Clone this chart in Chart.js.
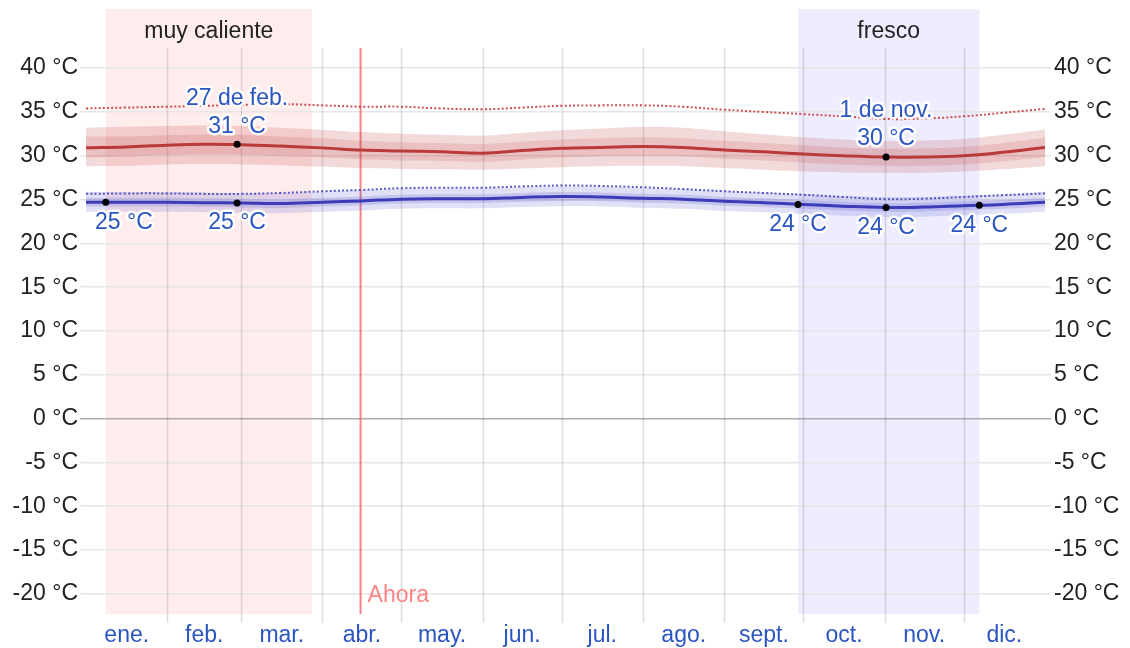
<!DOCTYPE html>
<html>
<head>
<meta charset="utf-8">
<script src="https://cdn.jsdelivr.net/npm/chart.js@4.4.1/dist/chart.umd.min.js"></script>
<style>
  html, body { margin: 0; padding: 0; background: #fff; }
  canvas { display: block; }
</style>
</head>
<body>
<canvas id="tempChart" width="1130" height="648"></canvas>
<script>
// day of year for each sample
const days = [0, 15, 31, 45, 59, 74, 90, 105, 120, 135, 151, 166, 181, 196, 212, 227, 243, 258, 273, 288, 304, 319, 334, 349, 365];

// average high and its percentile bands
const highAvg = [30.9, 31.0, 31.2, 31.3, 31.25, 31.1, 30.9, 30.65, 30.55, 30.45, 30.3, 30.6, 30.85, 30.95, 31.05, 30.95, 30.65, 30.45, 30.2, 30.0, 29.85, 29.85, 30.0, 30.4, 30.95];
const high90 = [33.2, 33.3, 33.4, 33.45, 33.4, 33.2, 32.95, 32.7, 32.5, 32.4, 32.3, 32.6, 32.9, 33.1, 33.3, 33.2, 32.8, 32.45, 32.1, 31.85, 31.7, 31.75, 31.95, 32.4, 33.0];
const high75 = [32.2, 32.2, 32.35, 32.4, 32.4, 32.2, 32.0, 31.7, 31.55, 31.45, 31.35, 31.6, 31.85, 32.0, 32.1, 32.0, 31.7, 31.45, 31.2, 30.95, 30.8, 30.85, 31.0, 31.45, 32.05];
const high25 = [29.8, 29.9, 30.05, 30.15, 30.1, 29.95, 29.8, 29.6, 29.45, 29.4, 29.3, 29.55, 29.8, 29.95, 30.0, 29.95, 29.65, 29.45, 29.2, 29.0, 28.85, 28.85, 29.0, 29.35, 29.85];
const high10 = [28.8, 28.85, 29.0, 29.05, 29.0, 28.9, 28.75, 28.6, 28.5, 28.45, 28.4, 28.55, 28.7, 28.8, 28.85, 28.8, 28.6, 28.4, 28.2, 28.1, 28.05, 28.05, 28.2, 28.45, 28.8];
const highFeels = [35.4, 35.5, 35.6, 35.7, 35.8, 35.9, 35.75, 35.6, 35.6, 35.4, 35.3, 35.5, 35.7, 35.75, 35.75, 35.6, 35.25, 35.0, 34.75, 34.5, 34.2, 34.25, 34.5, 34.9, 35.35];

// average low and its percentile bands
const lowAvg = [24.7, 24.7, 24.7, 24.65, 24.6, 24.55, 24.7, 24.85, 25.05, 25.1, 25.1, 25.25, 25.35, 25.3, 25.15, 25.05, 24.8, 24.65, 24.45, 24.25, 24.1, 24.15, 24.3, 24.45, 24.7];
const low90 = [25.9, 25.85, 25.85, 25.8, 25.75, 25.75, 25.9, 26.05, 26.2, 26.25, 26.25, 26.4, 26.5, 26.45, 26.3, 26.2, 25.95, 25.8, 25.6, 25.4, 25.3, 25.3, 25.45, 25.6, 25.9];
const low75 = [25.2, 25.2, 25.2, 25.15, 25.1, 25.05, 25.2, 25.35, 25.55, 25.6, 25.6, 25.75, 25.85, 25.8, 25.65, 25.55, 25.3, 25.15, 24.95, 24.75, 24.6, 24.65, 24.8, 24.95, 25.2];
const low25 = [24.2, 24.2, 24.2, 24.15, 24.1, 24.05, 24.2, 24.35, 24.55, 24.6, 24.6, 24.75, 24.85, 24.8, 24.65, 24.55, 24.3, 24.15, 23.95, 23.75, 23.6, 23.65, 23.8, 23.95, 24.2];
const low10 = [23.6, 23.6, 23.6, 23.55, 23.5, 23.45, 23.6, 23.75, 23.95, 24.0, 24.0, 24.15, 24.25, 24.2, 24.05, 23.95, 23.7, 23.55, 23.35, 23.15, 23.0, 23.05, 23.2, 23.35, 23.6];
const lowFeels = [25.65, 25.7, 25.7, 25.65, 25.65, 25.75, 25.95, 26.1, 26.3, 26.35, 26.35, 26.5, 26.6, 26.55, 26.4, 26.2, 25.95, 25.75, 25.55, 25.3, 25.05, 25.1, 25.3, 25.5, 25.7];

// highlighted points
const highMarkDays = [57.5, 304.5];
const highMarkTemps = [31.3, 29.85];
const highMarkDates = ['27 de feb.', '1 de nov.'];
const lowMarkDays = [7.5, 57.5, 271, 304.5, 340];
const lowMarkTemps = [24.7, 24.6, 24.45, 24.1, 24.35];

// seasons and "now"
const seasonNames = ['muy caliente', 'fresco'];
const seasonStart = [7.5, 271];
const seasonEnd = [86, 340];
const nowDay = 104.5;

// axes
const monthStarts = [0, 31, 59, 90, 120, 151, 181, 212, 243, 273, 304, 334, 365];
const monthMids = [15.5, 45, 74.5, 105, 135.5, 166, 196.5, 227.5, 258, 288.5, 319, 349.5];
const monthLabels = ['ene.', 'feb.', 'mar.', 'abr.', 'may.', 'jun.', 'jul.', 'ago.', 'sept.', 'oct.', 'nov.', 'dic.'];
const yTicks = [-20, -15, -10, -5, 0, 5, 10, 15, 20, 25, 30, 35, 40];

const FONT = '"Liberation Sans", Arial, sans-serif';
const BLUE_TEXT = '#2b55c0';

function pts(values) {
    return values.map((v, i) => ({ x: days[i], y: v }));
}

function haloText(ctx, text, x, y, color) {
    ctx.lineJoin = 'round';
    ctx.lineWidth = 5;
    ctx.strokeStyle = 'rgba(255,255,255,0.9)';
    ctx.strokeText(text, x, y);
    ctx.fillStyle = color;
    ctx.fillText(text, x, y);
}

const decor = {
    id: 'decor',
    beforeDraw(chart) {
        const { ctx, chartArea, scales } = chart;
        const xs = scales.x;
        const colors = ['rgba(255,0,0,0.075)', 'rgba(0,0,255,0.07)'];
        ctx.save();
        seasonNames.forEach((name, i) => {
            const x0 = xs.getPixelForValue(seasonStart[i]);
            const x1 = xs.getPixelForValue(seasonEnd[i]);
            ctx.fillStyle = colors[i];
            ctx.fillRect(x0, chartArea.top, x1 - x0, chartArea.bottom - chartArea.top);
            ctx.fillStyle = '#222';
            ctx.font = '23px ' + FONT;
            ctx.textAlign = 'center';
            ctx.textBaseline = 'middle';
            ctx.fillText(name, (x0 + x1) / 2, chartArea.top + 23);
        });
        ctx.restore();
    },
    beforeDatasetsDraw(chart) {
        const { ctx, chartArea, scales } = chart;
        const xs = scales.x, ys = scales.y;
        const top = ys.getPixelForValue(42.3);
        ctx.save();
        ctx.strokeStyle = 'rgba(0,0,0,0.13)';
        ctx.lineWidth = 1.5;
        monthStarts.slice(1, -1).forEach(d => {
            const x = Math.round(xs.getPixelForValue(d)) + 0.5;
            ctx.beginPath();
            ctx.moveTo(x, top);
            ctx.lineTo(x, chartArea.bottom + 9);
            ctx.stroke();
        });
        const nx = xs.getPixelForValue(nowDay);
        ctx.strokeStyle = 'rgba(240,90,90,0.75)';
        ctx.lineWidth = 2;
        ctx.beginPath();
        ctx.moveTo(nx, top);
        ctx.lineTo(nx, chartArea.bottom);
        ctx.stroke();
        ctx.restore();
    },
    afterDatasetsDraw(chart) {
        const { ctx, chartArea, scales } = chart;
        const xs = scales.x, ys = scales.y;
        ctx.save();
        ctx.font = '23px ' + FONT;
        ctx.textAlign = 'center';
        ctx.textBaseline = 'middle';

        highMarkDays.forEach((d, i) => {
            const x = xs.getPixelForValue(d);
            const y = ys.getPixelForValue(highMarkTemps[i]);
            haloText(ctx, highMarkDates[i], x, y - 46, BLUE_TEXT);
            haloText(ctx, Math.round(highMarkTemps[i]) + ' °C', x, y - 18, BLUE_TEXT);
            ctx.fillStyle = '#000';
            ctx.beginPath();
            ctx.arc(x, y, 3.5, 0, Math.PI * 2);
            ctx.fill();
        });

        lowMarkDays.forEach((d, i) => {
            const x = xs.getPixelForValue(d);
            const y = ys.getPixelForValue(lowMarkTemps[i]);
            const text = Math.round(lowMarkTemps[i]) + ' °C';
            const half = ctx.measureText(text).width / 2;
            const lx = Math.max(x, chartArea.left + half + 9);
            haloText(ctx, text, lx, y + 20, BLUE_TEXT);
            ctx.fillStyle = '#000';
            ctx.beginPath();
            ctx.arc(x, y, 3.5, 0, Math.PI * 2);
            ctx.fill();
        });

        const nx = xs.getPixelForValue(nowDay);
        ctx.textAlign = 'left';
        ctx.fillStyle = 'rgba(250,110,110,0.85)';
        ctx.fillText('Ahora', nx + 7, ys.getPixelForValue(-20) + 2);
        ctx.restore();
    }
};

const lineBase = { pointRadius: 0, tension: 0.4, fill: false };

function noEdgePadding(scale) {
    scale.paddingTop = 0;
    scale.paddingBottom = 0;
    scale.paddingLeft = 0;
    scale.paddingRight = 0;
}

const yAxisCommon = {
    min: -22.3,
    max: 46.75,
    border: { display: false },
    afterBuildTicks: scale => { scale.ticks = yTicks.map(v => ({ value: v })); },
    ticks: {
        color: '#222',
        font: { family: FONT, size: 23 },
        callback: v => v + ' °C'
    }
};

new Chart(document.getElementById('tempChart').getContext('2d'), {
    type: 'line',
    data: {
        datasets: [
            { ...lineBase, data: pts(highAvg), borderColor: '#b93a3a', borderWidth: 3 },
            { ...lineBase, data: pts(lowAvg), borderColor: '#3c3cb8', borderWidth: 3 },
            { ...lineBase, data: pts(highFeels), borderColor: 'rgba(200,60,60,0.9)', borderWidth: 2, borderDash: [2, 2.2] },
            { ...lineBase, data: pts(lowFeels), borderColor: 'rgba(70,70,190,0.9)', borderWidth: 2, borderDash: [2, 2.2] },
            { ...lineBase, data: pts(high75), borderWidth: 0, fill: '+1', backgroundColor: 'rgba(195,70,70,0.18)' },
            { ...lineBase, data: pts(high25), borderWidth: 0 },
            { ...lineBase, data: pts(high90), borderWidth: 0, fill: '+1', backgroundColor: 'rgba(195,70,70,0.2)' },
            { ...lineBase, data: pts(high10), borderWidth: 0 },
            { ...lineBase, data: pts(low75), borderWidth: 0, fill: '+1', backgroundColor: 'rgba(70,70,200,0.18)' },
            { ...lineBase, data: pts(low25), borderWidth: 0 },
            { ...lineBase, data: pts(low90), borderWidth: 0, fill: '+1', backgroundColor: 'rgba(70,70,200,0.17)' },
            { ...lineBase, data: pts(low10), borderWidth: 0 }
        ]
    },
    options: {
        responsive: false,
        animation: false,
        layout: { padding: { top: 9, left: 0, right: 0, bottom: 0 } },
        plugins: {
            legend: { display: false },
            tooltip: { enabled: false }
        },
        scales: {
            x: {
                type: 'linear',
                min: 0,
                max: 365,
                border: { display: false },
                grid: { display: false, drawTicks: false },
                afterBuildTicks: scale => { scale.ticks = monthMids.map(v => ({ value: v })); },
                afterFit: scale => { scale.height = 34; noEdgePadding(scale); },
                ticks: {
                    autoSkip: false,
                    maxRotation: 0,
                    padding: 8,
                    color: BLUE_TEXT,
                    font: { family: FONT, size: 23 },
                    callback: (v, i) => monthLabels[i]
                }
            },
            y: {
                ...yAxisCommon,
                position: 'left',
                afterFit: scale => { scale.width = 86; noEdgePadding(scale); },
                grid: {
                    lineWidth: 1.5,
                    tickLength: 6,
                    color: c => (c.tick && c.tick.value === 0 ? '#ababab' : '#e6e6e6')
                },
                ticks: { ...yAxisCommon.ticks, padding: 2 }
            },
            y2: {
                ...yAxisCommon,
                position: 'right',
                afterFit: scale => { scale.width = 85; noEdgePadding(scale); },
                grid: {
                    drawOnChartArea: false,
                    lineWidth: 1.5,
                    tickLength: 6,
                    color: c => (c.tick && c.tick.value === 0 ? '#ababab' : '#e6e6e6')
                },
                ticks: { ...yAxisCommon.ticks, padding: 3 }
            }
        }
    },
    plugins: [decor]
});
</script>
</body>
</html>
